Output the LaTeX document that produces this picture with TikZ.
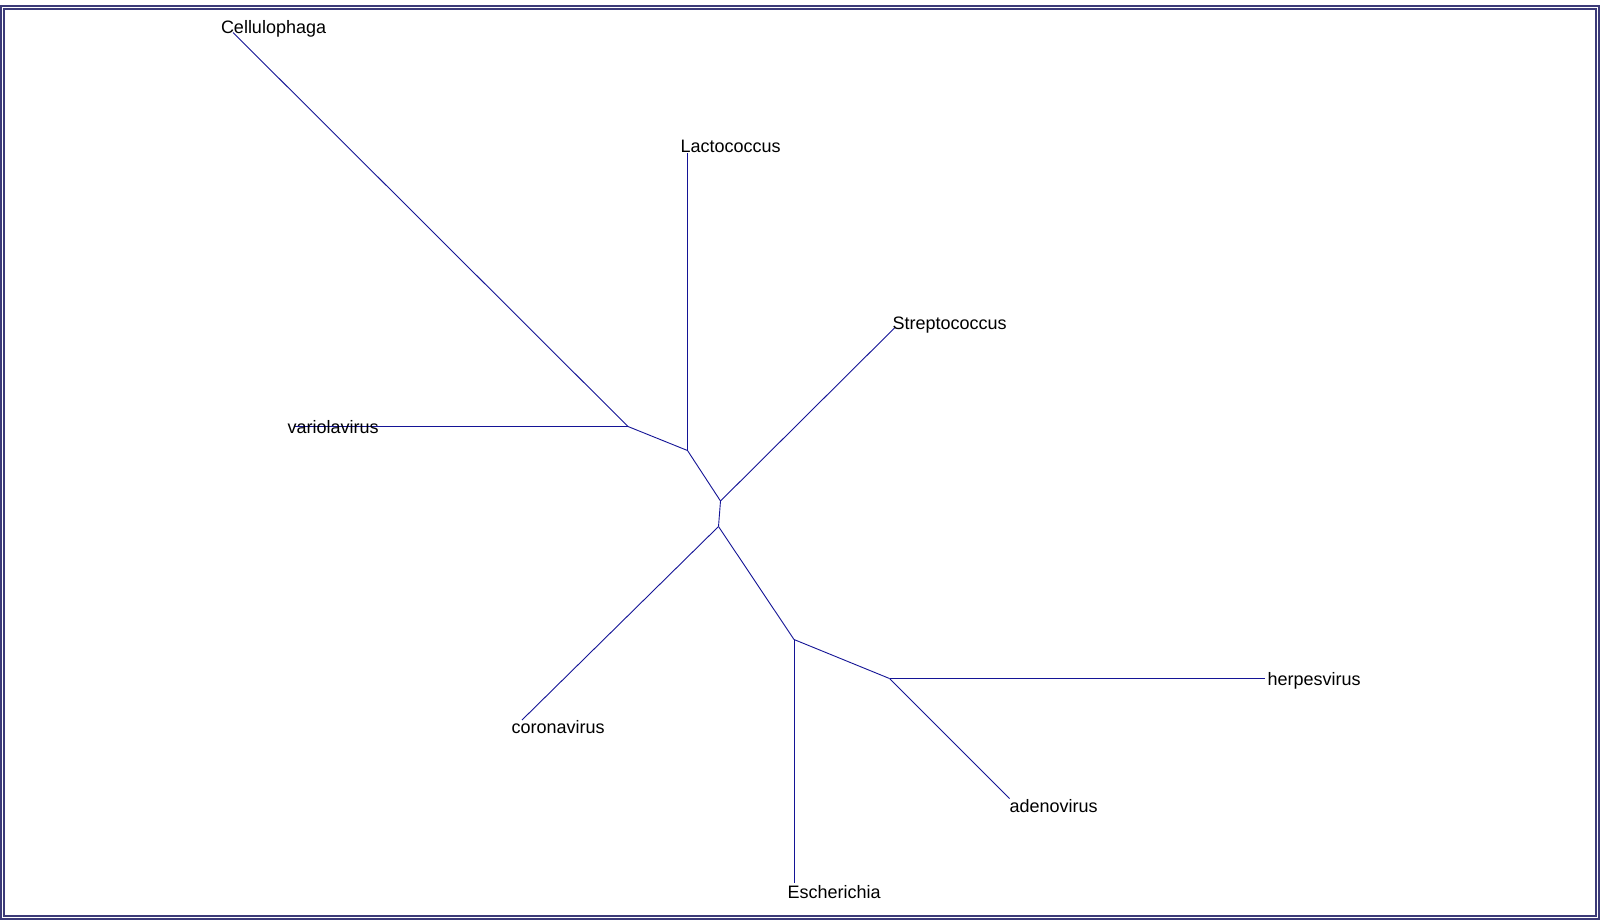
\documentclass[tikz,border=0pt]{standalone}
\usepackage{fontspec}
\setmainfont{Liberation Sans}
\definecolor{edgecol}{RGB}{20,20,150}
\definecolor{framecol}{RGB}{60,58,120}
\tikzset{
  edge/.style={draw=edgecol, line width=0.9pt},
  frame/.style={draw=framecol, line width=1.1pt},
  lbl/.style={anchor=base west, inner sep=0pt, outer sep=0pt, font=\fontsize{18}{20}\selectfont, text=black}
}
\begin{document}
\begin{tikzpicture}[x=1pt,y=-1pt]
\useasboundingbox (0,0) rectangle (1600,922);
\fill[white] (0,0) rectangle (1600,922);
\draw[frame] (1,6) rectangle (1599,919);
\draw[frame] (4,9) rectangle (1596,916);
% internal nodes
\coordinate (A) at (628,426.5);
\coordinate (B) at (687.5,450.5);
\coordinate (C) at (720.5,501);
\coordinate (D) at (718.5,526.5);
\coordinate (E) at (794,639.5);
\coordinate (F) at (889.5,678.5);
% tips
\coordinate (cel) at (233,32.5);
\coordinate (var) at (295,426.5);
\coordinate (lac) at (687.5,153);
\coordinate (str) at (894.5,328);
\coordinate (cor) at (522,720);
\coordinate (her) at (1265,678.5);
\coordinate (ade) at (1009.5,798.5);
\coordinate (esc) at (794,882.5);
% edges
\draw[edge] (cel) -- (A);
\draw[edge] (var) -- (A);
\draw[edge] (A) -- (B);
\draw[edge] (B) -- (lac);
\draw[edge] (B) -- (C);
\draw[edge] (C) -- (str);
\draw[edge] (C) -- (D);
\draw[edge] (D) -- (cor);
\draw[edge] (D) -- (E);
\draw[edge] (E) -- (esc);
\draw[edge] (E) -- (F);
\draw[edge] (F) -- (her);
\draw[edge] (F) -- (ade);
% labels
\node[lbl] (celL) at (221,33.5) {Cellulophaga};
\node[lbl] (lacL) at (680.5,152) {Lactococcus};
\node[lbl] (strL) at (892.5,329.5) {Streptococcus};
\node[lbl] (varL) at (287.5,433.5) {variolavirus};
\node[lbl] (corL) at (511.5,733) {coronavirus};
\node[lbl] (herL) at (1267.5,685) {herpesvirus};
\node[lbl] (adeL) at (1009.5,812.5) {adenovirus};
\node[lbl] (escL) at (787.5,898.5) {Escherichia};
\end{tikzpicture}
\end{document}
